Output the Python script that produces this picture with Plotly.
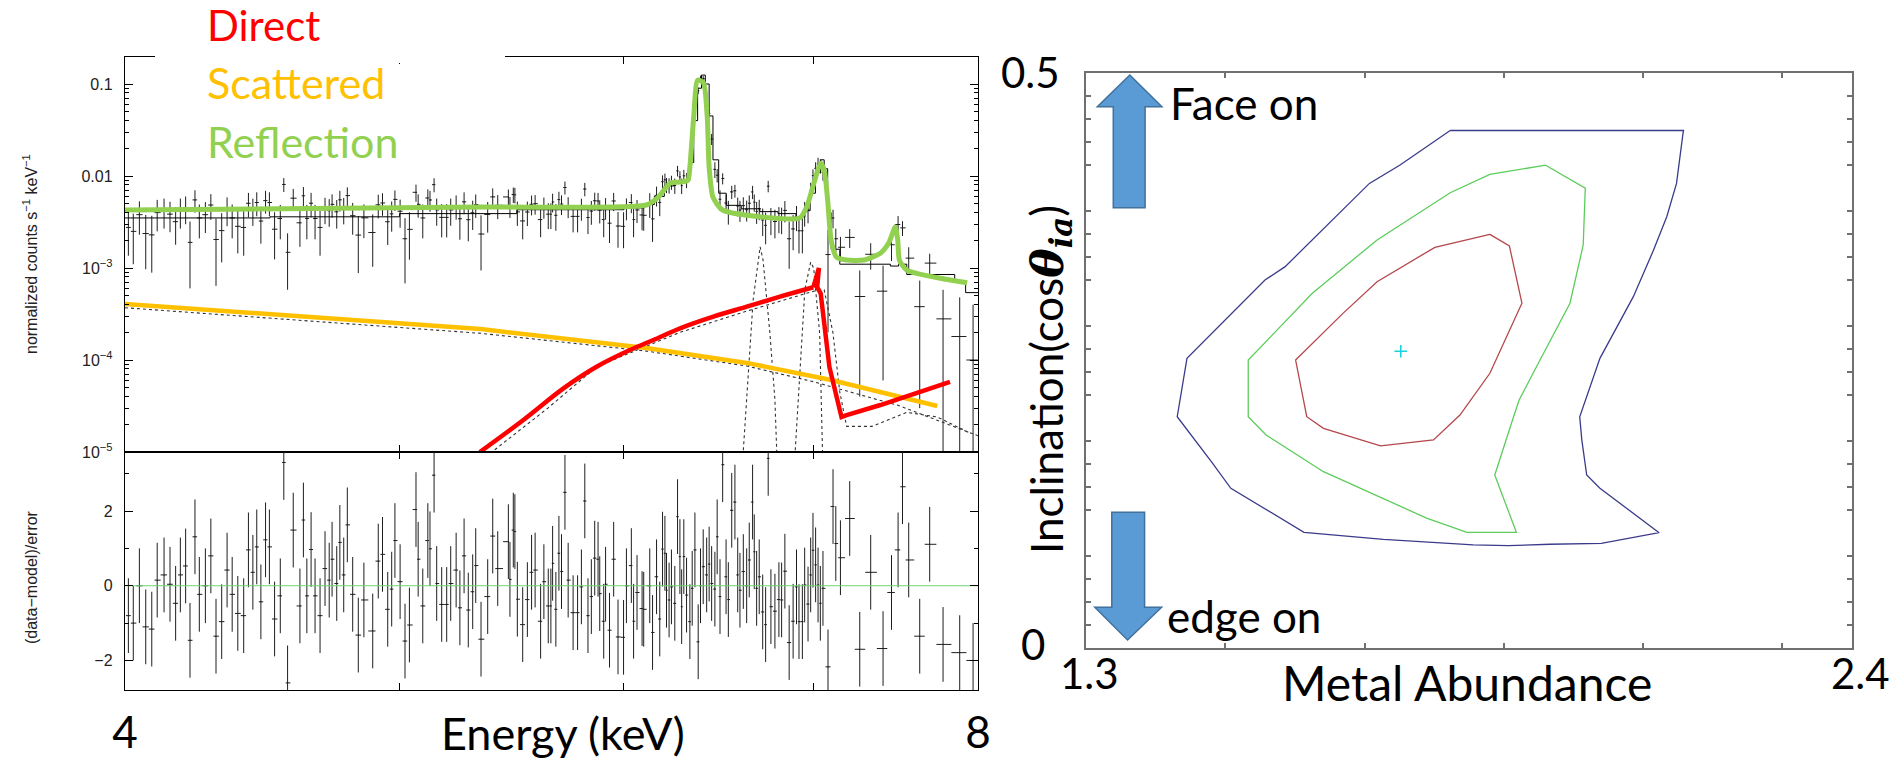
import numpy as np
import plotly.graph_objects as go

W, H = 1897, 762

# ---------------- Spectrum (left panel) ----------------
energy_keV = [
    4.011, 4.027, 4.047, 4.068, 4.088, 4.106, 4.129, 4.149, 4.168, 4.184,
    4.202, 4.217, 4.234, 4.249, 4.270, 4.289, 4.307, 4.327, 4.346, 4.364,
    4.384, 4.405, 4.422, 4.438, 4.452, 4.467, 4.484, 4.498, 4.517, 4.538,
    4.551, 4.565, 4.586, 4.611, 4.624, 4.637, 4.653, 4.668, 4.687, 4.706,
    4.722, 4.733, 4.751, 4.763, 4.778, 4.792, 4.813, 4.835, 4.857, 4.892,
    4.914, 4.931, 4.952, 4.968, 4.981, 5.002, 5.022, 5.040, 5.067, 5.076,
    5.095, 5.116, 5.125, 5.142, 5.153, 5.174, 5.195, 5.212, 5.235, 5.251,
    5.269, 5.287, 5.306, 5.319, 5.342, 5.371, 5.393, 5.415,
    5.462, 5.469, 5.484, 5.491, 5.502, 5.526, 5.547, 5.566, 5.582, 5.607,
    5.622, 5.642, 5.654, 5.662, 5.677, 5.691, 5.703, 5.719, 5.734, 5.757,
    5.778, 5.796, 5.812, 5.827, 5.843, 5.859, 5.875, 5.883, 5.902, 5.911,
    5.930, 5.950, 5.971, 5.998, 6.012, 6.036, 6.047, 6.064, 6.089, 6.097,
    6.127, 6.141, 6.161, 6.177, 6.191, 6.203, 6.211, 6.224, 6.236, 6.253,
    6.267, 6.279, 6.288, 6.299, 6.313, 6.330, 6.342, 6.356, 6.373, 6.385,
    6.399, 6.417, 6.430, 6.443, 6.460, 6.472, 6.487, 6.501, 6.519, 6.531,
    6.549, 6.566, 6.581, 6.593, 6.611, 6.629, 6.643, 6.661, 6.670, 6.683,
    6.697, 6.716, 6.732, 6.746, 6.761, 6.783, 6.805, 6.820, 6.838, 6.862,
    6.884, 6.903, 6.917, 6.936, 6.949, 6.968, 6.983, 6.996, 7.011, 7.025,
    7.038, 7.053, 7.082, 7.111, 7.127, 7.154, 7.208, 7.267, 7.332, 7.406,
    7.457, 7.497, 7.524, 7.562, 7.630, 7.692, 7.776, 7.882, 7.968,
]

# normalized counts s^-1 keV^-1, in units of 1e-3
flux_1e3 = [
    2.76, 2.50, 3.80, 2.37, 2.29, 4.00, 4.18, 3.85, 3.19, 4.18,
    4.49, 1.90, 5.50, 3.50, 3.80, 4.84, 2.04, 2.55, 4.35, 3.50,
    2.84, 2.76, 5.05, 4.27, 5.15, 3.24, 5.40, 5.15, 2.64, 3.45,
    8.09, 1.48, 5.74, 3.10, 6.09, 3.45, 5.06, 3.45, 2.76, 4.40,
    4.20, 4.92, 4.08, 5.51, 4.38, 6.12, 3.70, 2.28, 3.51, 2.43,
    4.86, 5.09, 3.18, 3.88, 5.57, 4.14, 2.08, 2.63, 6.65, 4.92,
    3.50, 5.77, 5.49, 8.05, 4.28, 3.55, 3.55, 4.28, 4.75, 3.43,
    5.24, 3.35, 3.99, 4.90, 2.34, 3.82, 5.93, 4.80,
    5.92, 4.70, 6.29, 6.24, 4.07, 3.25, 4.06, 4.93, 5.00, 3.36,
    4.63, 3.85, 3.85, 5.22, 3.74, 5.54, 4.96, 7.50, 4.68, 3.64,
    3.64, 4.46, 7.22, 3.54, 4.15, 5.39, 5.35, 4.25, 3.36, 4.55,
    3.07, 5.35, 2.86, 2.84, 4.50, 5.15, 3.36, 4.28, 3.77, 3.74,
    5.00, 3.42, 6.16, 5.16, 8.67, 9.11, 8.02, 7.93, 8.56, 7.89,
    11.38, 9.77, 7.86, 10.05, 9.07, 11.9, 24.8, 59.8, 84.5, 115.0,
    114.0, 76.9, 47.9, 25.2, 11.8, 10.2, 5.59, 9.4, 5.09, 4.16,
    6.72, 6.91, 4.72, 4.27, 4.77, 4.30, 5.06, 6.71, 5.20, 4.12,
    4.41, 3.33, 2.91, 7.75, 3.38, 3.20, 3.49, 3.43, 4.23, 2.08,
    2.66, 3.62, 2.54, 2.54, 4.02, 4.36, 6.94, 10.1, 12.1, 13.5,
    12.9, 10.9, 1.40, 3.50, 2.08, 1.68, 2.15, 0.49, 1.41, 0.56,
    1.79, 2.97, 2.73, 1.28, 0.38, 1.13, 0.28, 0.18, 0.10,
]

flux_err_1e3 = [
    1.4, 1.4, 1.5, 1.4, 1.4, 1.5, 1.5, 1.4, 1.4, 1.5,
    1.5, 1.3, 1.5, 1.4, 1.4, 1.5, 1.4, 1.4, 1.5, 1.4,
    1.4, 1.4, 1.5, 1.4, 1.5, 1.4, 1.5, 1.5, 1.4, 1.4,
    1.4, 0.9, 1.5, 1.4, 1.5, 1.4, 1.5, 1.4, 1.4, 1.4,
    1.4, 1.4, 1.4, 1.4, 1.4, 1.4, 1.4, 1.4, 1.4, 1.4,
    1.4, 1.4, 1.4, 1.4, 1.4, 1.4, 1.4, 1.4, 1.4, 1.4,
    1.4, 1.4, 1.4, 1.4, 1.4, 1.4, 1.4, 1.4, 1.4, 1.4,
    1.4, 1.4, 1.4, 1.4, 1.4, 1.4, 1.4, 1.4,
    1.2, 1.2, 1.2, 1.2, 1.2, 1.2, 1.2, 1.2, 1.2, 1.2,
    1.2, 1.2, 1.2, 1.2, 1.2, 1.2, 1.2, 1.2, 1.2, 1.2,
    1.2, 1.2, 1.2, 1.2, 1.2, 1.2, 1.2, 1.2, 1.2, 1.2,
    1.2, 1.2, 1.2, 1.2, 1.2, 1.2, 1.2, 1.2, 1.2, 1.2,
    1.5, 1.5, 1.5, 1.5, 1.5, 1.5, 1.5, 1.5, 1.5, 1.5,
    1.5, 1.5, 1.5, 1.6, 1.7, 2.2, 3.0, 5.0, 7.0, 8.0,
    8.0, 6.5, 5.0, 3.5, 2.3, 1.7, 1.4, 1.3, 1.2, 1.2,
    1.1, 1.1, 1.1, 1.1, 1.1, 1.1, 1.1, 1.1, 1.1, 1.1,
    1.1, 1.1, 1.1, 1.1, 1.1, 1.1, 1.1, 1.1, 1.1, 1.1,
    1.1, 1.1, 1.1, 1.1, 1.2, 1.3, 1.5, 1.7, 2.0, 2.3,
    2.3, 2.0, 1.2, 0.8, 0.6, 0.5, 0.5, 0.45, 0.45, 0.5,
    0.6, 0.7, 0.5, 0.4, 0.35, 0.3, 0.3, 0.3, 0.3,
]

# (data-model)/error
resid = [
    -0.80, -1.00, 0.00, -1.10, -1.16, 0.15, 0.29, 0.04, -0.47, 0.29,
    0.53, -1.46, 1.31, -0.23, 0.00, 0.80, -1.35, -0.96, 0.42, -0.23,
    -0.74, -0.80, 0.96, 0.36, 1.04, -0.43, 1.23, 1.04, -0.89, -0.27,
    3.30, -2.60, 1.49, -0.54, 1.76, -0.27, 0.97, -0.27, -0.80, 0.46,
    0.15, 0.71, 0.06, 1.16, 0.29, 1.63, -0.23, -1.32, -0.38, -1.21,
    0.66, 0.84, -0.63, -0.09, 1.21, 0.11, -1.48, -1.05, 2.04, 0.71,
    -0.54, 1.21, 0.99, 2.96, 0.06, -0.50, -0.50, 0.06, 0.42, -0.59,
    0.80, -0.65, -0.16, 0.54, -1.43, -0.29, 1.33, 0.46,
    1.18, 0.17, 1.49, 1.45, -0.36, -1.04, -0.37, 0.36, 0.42, -0.95,
    0.11, -0.54, -0.54, 0.60, -0.63, 0.87, 0.38, 2.50, 0.15, -0.72,
    -0.72, -0.03, 2.27, -0.80, -0.29, 0.74, 0.71, -0.21, -0.95, 0.04,
    -1.19, 0.71, -1.37, -1.38, 0.00, 0.54, -0.95, -0.18, -0.61, -0.63,
    0.00, -1.25, 0.24, -0.89, 0.98, 0.87, -0.12, -0.38, -0.03, -0.47,
    1.85, 0.78, -0.56, 0.78, -0.25, -0.96, -0.07, 0.96, -1.50, 0.00,
    0.51, 0.29, 0.58, 0.06, -0.09, 1.31, -0.29, 3.24, 0.24, -0.37,
    2.02, 2.24, 0.29, -0.12, 0.38, 0.00, 0.69, 2.24, 0.91, -0.07,
    0.24, -0.70, -1.04, 3.41, -0.56, -0.68, -0.37, -0.38, 0.39, -1.52,
    -0.95, -0.03, -0.96, -0.96, 0.02, -0.49, 0.29, 0.95, 0.56, 0.02,
    -0.47, -0.07, -2.17, 2.12, 1.13, 0.75, 1.80, -1.70, 0.36, -1.68,
    -0.18, 0.96, 2.65, 0.69, -1.35, 1.11, -1.57, -1.79, -2.00,
]

# total model (thin black step)
model_E = [4.0, 4.5, 5.0, 5.5, 6.0, 6.1, 6.15, 6.2, 6.25, 6.3, 6.33, 6.35, 6.37,
           6.39, 6.41, 6.43, 6.45, 6.48, 6.52, 6.6, 6.7, 6.8, 6.9, 6.95, 6.98,
           7.01, 7.04, 7.06, 7.08, 7.1, 7.15, 7.45, 7.5, 7.55, 7.85, 7.92, 8.0]
model_F = [3.5e-3, 3.6e-3, 3.9e-3, 4.3e-3, 4.5e-3, 4.9e-3, 6.0e-3, 7.8e-3, 8.6e-3,
           9.0e-3, 0.014, 0.04, 0.09, 0.125, 0.10, 0.045, 0.015, 6.5e-3, 4.8e-3,
           4.4e-3, 4.1e-3, 3.9e-3, 3.6e-3, 4.2e-3, 6.5e-3, 0.011, 0.015, 0.012,
           4e-3, 1.6e-3, 1.1e-3, 1.05e-3, 1.1e-3, 8.5e-4, 7.0e-4, 5.4e-4, 5.4e-4]

# highlighted components
refl_E = [4.0, 5.34, 6.11, 6.17, 6.23, 6.28, 6.32, 6.33, 6.35, 6.37, 6.40, 6.42,
          6.43, 6.45, 6.50, 6.92, 6.96, 6.995, 7.04, 7.06, 7.08, 7.10, 7.13, 7.19,
          7.29, 7.39, 7.44, 7.48, 7.495, 7.505, 7.55, 7.93]
refl_F = [4.27e-3, 4.6e-3, 4.84e-3, 5.9e-3, 8.4e-3, 8.6e-3, 9.0e-3, 0.0125, 0.044,
          0.11, 0.103, 0.044, 0.0125, 5.9e-3, 4.27e-3, 3.49e-3, 4.6e-3, 7.6e-3,
          0.0138, 0.0116, 5.5e-3, 2.0e-3, 1.32e-3, 1.22e-3, 1.22e-3, 1.45e-3,
          1.87e-3, 2.79e-3, 2.0e-3, 1.22e-3, 9.5e-4, 6.9e-4]
scat_E = [4.0, 5.34, 6.11, 6.63, 7.10, 7.74]
scat_F = [4.07e-4, 2.17e-4, 1.35e-4, 9.3e-5, 6.06e-5, 3.16e-5]
# direct: smooth rise, then Fe K edge and tail
direct_rise_E = [5.337, 5.529, 5.712, 5.868, 6.030, 6.145, 6.280, 6.452, 6.629, 6.811, 6.998]
direct_rise_F = [1.0e-5, 2.23e-5, 4.92e-5, 8.45e-5, 1.285e-4, 1.65e-4, 2.21e-4, 2.96e-4,
                 3.80e-4, 4.88e-4, 6.17e-4]
direct_edge_E = [6.998, 7.03, 7.02, 7.04, 7.09, 7.16, 7.19, 7.39, 7.82]
direct_edge_F = [6.17e-4, 1.0e-3, 6.2e-4, 5.3e-4, 8.4e-5, 2.4e-5, 2.52e-5, 3.24e-5, 5.77e-5]

# dotted model components
dscat_E = [4.0, 5.34, 6.11, 6.63, 7.0, 7.5, 8.0]
dscat_F = [3.7e-4, 1.95e-4, 1.25e-4, 8.6e-5, 5.8e-5, 3.2e-5, 1.5e-5]
ddir_E = [5.34, 5.64, 5.87, 6.28, 6.63, 7.0, 7.06, 7.11, 7.15, 7.19, 7.34, 7.55, 7.74, 7.95]
ddir_F = [8e-6, 3.0e-5, 8.5e-5, 2.0e-4, 3.4e-4, 5.6e-4, 5.8e-4, 2.0e-4, 4.5e-5, 1.9e-5,
          1.9e-5, 2.7e-5, 2.4e-5, 1.6e-5]
gaussA_E = [6.609, 6.630, 6.664, 6.702, 6.718, 6.755, 6.783, 6.794]
gaussA_F = [9e-6, 3.7e-5, 4.5e-4, 1.7e-3, 1.22e-3, 2.0e-4, 3.7e-5, 9e-6]
gaussB_E = [6.894, 6.922, 6.950, 6.983, 7.000, 7.034, 7.051]
gaussB_F = [9e-6, 8.4e-5, 5.8e-4, 1.16e-3, 1.0e-3, 1.96e-4, 9e-6]

# ---------------- Contours (right panel) ----------------
blue_x = [1.823, 2.158, 2.157, 2.148, 2.134, 2.115, 2.086, 2.057, 2.038, 2.009, 2.012,
          2.019, 2.038, 2.123, 2.040, 1.966, 1.906, 1.856, 1.727, 1.613, 1.535, 1.508,
          1.480, 1.431, 1.445, 1.557, 1.586, 1.707, 1.751, 1.823]
blue_y = [0.450, 0.450, 0.446, 0.404, 0.375, 0.346, 0.3055, 0.2737, 0.2519, 0.2011, 0.181,
          0.1504, 0.1389, 0.1003, 0.0910, 0.0902, 0.0890, 0.0896, 0.0945, 0.1006, 0.1287,
          0.1389, 0.162, 0.2011, 0.2519, 0.320, 0.3316, 0.404, 0.420, 0.450]
green_x = [1.960, 2.017, 2.014, 1.995, 1.952, 1.922, 1.914, 1.887, 1.918, 1.847, 1.789,
           1.726, 1.641, 1.559, 1.533, 1.533, 1.625, 1.718, 1.823, 1.880, 1.960]
green_y = [0.4198, 0.3998, 0.3504, 0.2998, 0.2504, 0.2157, 0.2011, 0.1504, 0.1006, 0.1006,
           0.113, 0.1304, 0.1533, 0.185, 0.2011, 0.2504, 0.3084, 0.3548, 0.3959, 0.4119, 0.4198]
red_x = [1.880, 1.908, 1.926, 1.880, 1.837, 1.799, 1.723, 1.641, 1.617, 1.601, 1.669,
         1.718, 1.801, 1.880]
red_y = [0.3597, 0.3496, 0.2998, 0.2389, 0.2026, 0.1809, 0.1757, 0.191, 0.2011, 0.2504,
         0.291, 0.3185, 0.3484, 0.3597]
best_x = [1.752]
best_y = [0.258]

# ---------------- derived ----------------
E = np.array(energy_keV)
flux = np.array(flux_1e3) * 1e-3
ferr = np.array(flux_err_1e3) * 1e-3
mid = (E[1:] + E[:-1]) / 2
edges = np.concatenate([[E[0] - (mid[0] - E[0])], mid, [E[-1] + (E[-1] - mid[-1])]])
hw_lo = E - edges[:-1]
hw_hi = edges[1:] - E

fig = go.Figure()

DATA_C = "#1e1e1e"
ex = dict(type="data", symmetric=False, array=hw_hi, arrayminus=hw_lo,
          width=0, thickness=1, color=DATA_C)

fig.add_trace(go.Scatter(x=E, y=flux, mode="markers", marker=dict(size=1, color=DATA_C),
                         error_y=dict(type="data", array=ferr, width=0, thickness=1, color=DATA_C),
                         error_x=ex, xaxis="x", yaxis="y", hoverinfo="skip"))
fig.add_trace(go.Scatter(x=model_E, y=model_F, mode="lines", line=dict(color="black", width=1, shape="hv"),
                         xaxis="x", yaxis="y"))
for ex_, ey_ in [(dscat_E, dscat_F), (ddir_E, ddir_F), (gaussA_E, gaussA_F), (gaussB_E, gaussB_F)]:
    fig.add_trace(go.Scatter(x=ex_, y=ey_, mode="lines",
                             line=dict(color="#333333", width=1.1, dash="dot"),
                             xaxis="x", yaxis="y"))
fig.add_trace(go.Scatter(x=scat_E, y=scat_F, mode="lines", line=dict(color="#FFC000", width=4.5),
                         xaxis="x", yaxis="y"))
fig.add_trace(go.Scatter(x=direct_rise_E, y=direct_rise_F, mode="lines",
                         line=dict(color="#FF0000", width=4.5, shape="spline", smoothing=1.0),
                         xaxis="x", yaxis="y"))
fig.add_trace(go.Scatter(x=direct_edge_E, y=direct_edge_F, mode="lines",
                         line=dict(color="#FF0000", width=4.5), xaxis="x", yaxis="y"))
fig.add_trace(go.Scatter(x=refl_E, y=refl_F, mode="lines",
                         line=dict(color="#92D050", width=5, shape="spline", smoothing=0.6),
                         xaxis="x", yaxis="y"))

# residuals
fig.add_trace(go.Scatter(x=E, y=resid, mode="markers", marker=dict(size=1, color=DATA_C),
                         error_y=dict(type="constant", value=1, width=0, thickness=1, color=DATA_C),
                         error_x=ex, xaxis="x2", yaxis="y2"))
fig.add_trace(go.Scatter(x=[4, 8], y=[0, 0], mode="lines", line=dict(color="#6fd36f", width=1.2),
                         xaxis="x2", yaxis="y2"))

# contours
for cx, cy, col in [(blue_x, blue_y, "#3b3b8c"), (green_x, green_y, "#5ccc5c"), (red_x, red_y, "#b4474c")]:
    fig.add_trace(go.Scatter(x=cx, y=cy, mode="lines", line=dict(color=col, width=1.3),
                             xaxis="x3", yaxis="y3"))
fig.add_trace(go.Scatter(x=best_x, y=best_y, mode="markers",
                         marker=dict(symbol="cross-thin", size=9, line=dict(color="#18d2de", width=1.6)),
                         xaxis="x3", yaxis="y3"))

# ---------------- axes ----------------
def fy(py):
    return 1 - py / H

HELV = "Liberation Sans, Arial, sans-serif"
LATO = "Lato, Open Sans, sans-serif"
tickf = dict(family=HELV, size=16, color="#222222")

logminor = [k * 10.0 ** d for d in range(-5, 0) for k in range(2, 10)]

common_left = dict(showline=True, linecolor="black", linewidth=1.4, mirror="allticks",
                   ticks="inside", tickcolor="black", showgrid=False, zeroline=False,
                   automargin=False)
GRAY = "#707070"
common_right = dict(showline=True, linecolor=GRAY, linewidth=2, mirror="allticks",
                    showgrid=False, zeroline=False, automargin=False, tickvals=[],
                    showticklabels=False)
xr3 = [1.3, 2.4]
yr3 = [0, 0.5]
xdom3 = [1086 / W, 1852 / W]
ydom3 = [fy(648), fy(73)]

fig.update_layout(
    width=W, height=H, margin=dict(l=0, r=0, t=0, b=0, autoexpand=False),
    paper_bgcolor="white", plot_bgcolor="white", showlegend=False,
    xaxis=dict(domain=[125 / W, 978 / W], anchor="y", type="log",
               range=[np.log10(4), np.log10(8)], tickvals=[], showticklabels=False,
               minor=dict(tickvals=[5, 6, 7], ticks="inside", ticklen=7, tickcolor="black"),
               matches="x2", **common_left),
    yaxis=dict(domain=[fy(452), fy(57)], anchor="x", type="log", range=[-5, -0.7065],
               tickvals=[1e-5, 1e-4, 1e-3, 1e-2, 1e-1],
               ticktext=["10<sup>−5</sup>", "10<sup>−4</sup>", "10<sup>−3</sup>", "0.01", "0.1"],
               tickfont=tickf, ticklen=8, ticklabelstandoff=8,
               minor=dict(tickvals=logminor, ticks="inside", ticklen=4, tickcolor="black"),
               **common_left),
    xaxis2=dict(domain=[125 / W, 978 / W], anchor="y2", type="log",
                range=[np.log10(4), np.log10(8)], tickvals=[4, 8],
                ticktext=["4", "8"], tickfont=dict(family=LATO, size=44, color="black"),
                ticklen=7, ticklabelstandoff=4,
                minor=dict(tickvals=[5, 6, 7], ticks="inside", ticklen=7, tickcolor="black"),
                **common_left),
    yaxis2=dict(domain=[fy(690), fy(452)], anchor="x2", range=[-2.79, 3.58],
                tickvals=[-2, 0, 2], ticktext=["−2", "0", "2"], tickfont=tickf,
                ticklen=8, ticklabelstandoff=8,
                minor=dict(tickvals=[-1, 1, 3], ticks="inside", ticklen=4, tickcolor="black"),
                **common_left),
    # right panel: short ticks
    xaxis3=dict(domain=xdom3, anchor="y3", range=xr3,
                minor=dict(tickvals=[1.5, 1.7, 1.9, 2.1, 2.3], ticks="inside", ticklen=5,
                           tickcolor=GRAY, tickwidth=1.5),
                **common_right),
    yaxis3=dict(domain=ydom3, anchor="x3", range=yr3,
                minor=dict(tickvals=[0.02, 0.04, 0.06, 0.08, 0.12, 0.14, 0.16, 0.18,
                                     0.22, 0.24, 0.26, 0.28, 0.32, 0.34, 0.36, 0.38,
                                     0.42, 0.44, 0.46, 0.48],
                           ticks="inside", ticklen=5, tickcolor=GRAY, tickwidth=1.5),
                **common_right),
    # right panel: long ticks (overlay axes)
    xaxis4=dict(domain=xdom3, anchor="y3", overlaying="x3", range=xr3,
                minor=dict(tickvals=[1.4, 1.6, 1.8, 2.0, 2.2], ticks="inside", ticklen=9,
                           tickcolor=GRAY, tickwidth=1.5),
                **common_right),
    yaxis4=dict(domain=ydom3, anchor="x3", overlaying="y3", range=yr3,
                minor=dict(tickvals=[0.1, 0.2, 0.3, 0.4], ticks="inside", ticklen=9,
                           tickcolor=GRAY, tickwidth=1.5),
                **common_right),
)

# ---------------- text ----------------
def ann(text, px, py, size, color="black", xanchor="center", family=LATO, angle=0):
    return dict(text=text, x=px / W, y=fy(py), xref="paper", yref="paper", showarrow=False,
                xanchor=xanchor, yanchor="middle", textangle=angle,
                font=dict(family=family, size=size, color=color))

annotations = [
    ann("Direct", 205, 25, 42, "#FF0000", "left"),
    ann("Scattered", 205, 82.5, 43, "#FFC000", "left"),
    ann("Reflection", 205, 141.5, 43, "#92D050", "left"),
    ann("Energy (keV)", 563, 733, 45),
    ann("Metal Abundance", 1467, 682, 48),
    ann("Face on", 1168, 103, 44, xanchor="left"),
    ann("edge on", 1165, 616, 44, xanchor="left"),
    ann("0.5", 1062, 72, 42, xanchor="right"),
    ann("0", 1047, 644, 42, xanchor="right"),
    ann("1.3", 1089, 673, 42),
    ann("2.4", 1860, 673, 42),
    ann("Inclination(cos<span style='font-family:DejaVu Serif'><b><i>θ</i></b>"
        "<sub><b><i>ia</i></b></sub></span>)", 1049, 380, 44, angle=-90),
    ann("normalized counts s<sup>−1</sup> keV<sup>−1</sup>", 30, 254, 16, "#222222",
        family=HELV, angle=-90),
    ann("(data−model)/error", 31, 577, 16, "#222222", family=HELV, angle=-90),
]
fig.update_layout(annotations=annotations)

# ---------------- decorations ----------------
def path(points):
    return "M " + " L ".join(f"{x / W:.5f},{fy(y):.5f}" for x, y in points) + " Z"

up_arrow = [(1129.8, 75), (1161.9, 106.7), (1145.1, 106.7), (1145.1, 207.7),
            (1113.3, 207.7), (1113.3, 106.7), (1097.3, 106.7)]
down_arrow = [(1111.8, 512.3), (1144.6, 512.3), (1144.6, 607.3), (1161.6, 607.3),
              (1127.6, 640), (1094.8, 607.3), (1111.8, 607.3)]
shapes = [
    dict(type="rect", xref="paper", yref="paper", x0=155 / W, x1=505 / W, y0=fy(63), y1=fy(50),
         fillcolor="white", line=dict(width=0), layer="above"),
    dict(type="path", xref="paper", yref="paper", path=path(up_arrow),
         fillcolor="#5B9BD5", line=dict(color="#41719C", width=1.5), layer="above"),
    dict(type="path", xref="paper", yref="paper", path=path(down_arrow),
         fillcolor="#5B9BD5", line=dict(color="#41719C", width=1.5), layer="above"),
]
fig.update_layout(shapes=shapes)

fig.write_html("out.html", config={"displayModeBar": False},
               post_script="document.body.style.margin='0';document.body.style.padding='0';")
